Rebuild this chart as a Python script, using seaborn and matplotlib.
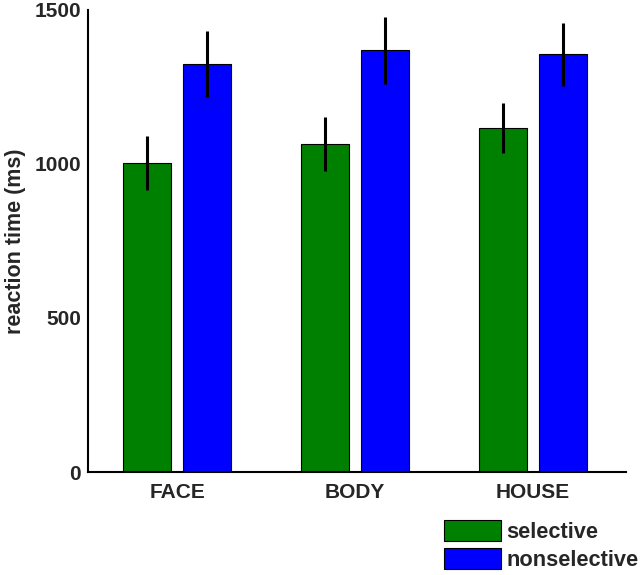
import pandas as pd
import matplotlib
matplotlib.use('Agg')
import matplotlib.pyplot as plt
import seaborn as sns

# values
categories = ['FACE', 'BODY', 'HOUSE']
conditions = ['selective', 'nonselective']
selective_rt = [1003, 1065, 1117]
nonselective_rt = [1323, 1368, 1355]
selective_err = [88, 88, 82]
nonselective_err = [107, 110, 102]
bar_colors = ['#008000', '#0000ff']

df = pd.DataFrame({
    'category': categories * 2,
    'condition': ['selective'] * len(categories) + ['nonselective'] * len(categories),
    'rt': selective_rt + nonselective_rt,
})
err_by_cond = {'selective': selective_err, 'nonselective': nonselective_err}

sns.set_style('white')
plt.rcParams['font.family'] = ['Liberation Sans', 'DejaVu Sans']
plt.rcParams['font.weight'] = 'bold'

fig = plt.figure(figsize=(6.4, 5.75), dpi=100)
ax = fig.add_axes([0.1375, 0.179, 0.84, 0.804])

sns.barplot(
    data=df, x='category', y='rt', hue='condition',
    order=categories, hue_order=conditions, palette=bar_colors,
    width=0.67, gap=0.2, errorbar=None,
    edgecolor='black', linewidth=0.8, saturation=1, ax=ax
)

# error bars on top of each bar
for cont, cond in zip(ax.containers, conditions):
    xs = [p.get_x() + p.get_width() / 2 for p in cont]
    hs = [p.get_height() for p in cont]
    ax.errorbar(xs, hs, yerr=err_by_cond[cond], fmt='none',
                ecolor='black', elinewidth=2.2, capsize=0, zorder=5)

ax.set_ylim(0, 1500)
ax.set_xlim(-0.5, 2.52)
ax.set_yticks([0, 500, 1000, 1500])
ax.set_xlabel('')
ax.set_ylabel('reaction time (ms)', fontsize=15.5, fontweight='bold', labelpad=6)

for side in ['top', 'right']:
    ax.spines[side].set_visible(False)
for side in ['left', 'bottom']:
    ax.spines[side].set_linewidth(1.5)
    ax.spines[side].set_color('black')

ax.tick_params(axis='both', direction='in', length=4, width=1.5, color='black')
ax.tick_params(axis='y', labelsize=15, pad=5)
ax.tick_params(axis='x', labelsize=15, pad=8)
for lbl in ax.get_xticklabels() + ax.get_yticklabels():
    lbl.set_fontweight('bold')

handles, labels = ax.get_legend_handles_labels()
ax.get_legend().remove()
fig.legend(handles, labels, loc='lower right', bbox_to_anchor=(1.015, -0.012),
           frameon=False, handlelength=2.6, handleheight=1.1,
           handletextpad=0.25, labelspacing=0.25, borderpad=0,
           prop={'size': 15.7, 'weight': 'bold'})

fig.savefig('out.png', dpi=100)
